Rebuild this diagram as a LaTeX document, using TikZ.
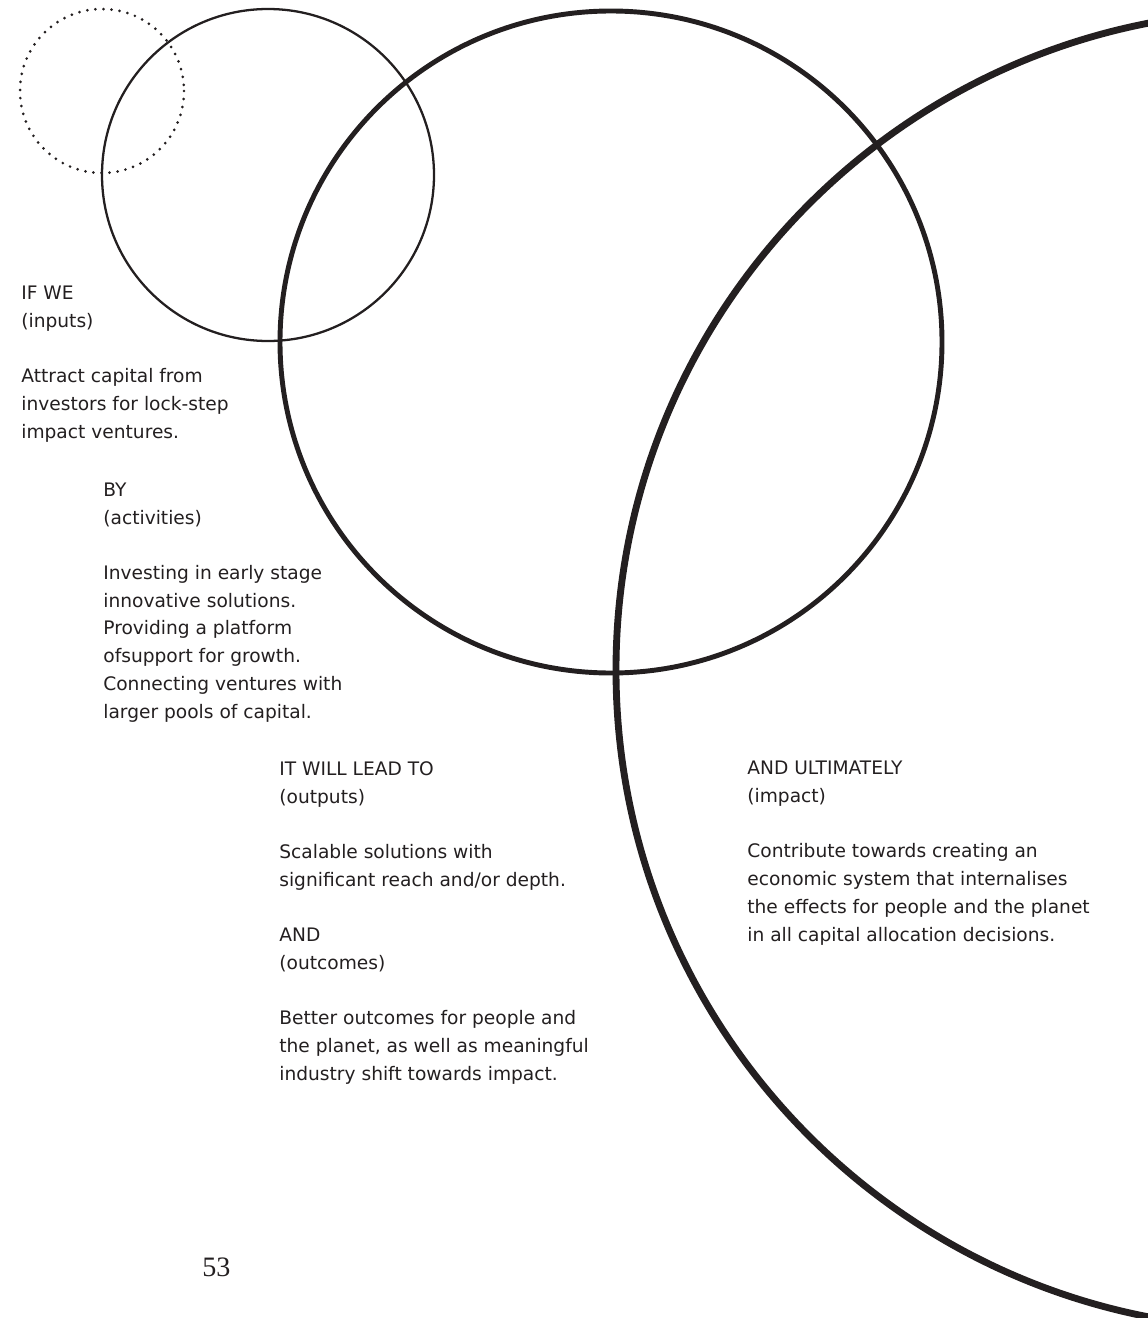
\documentclass[tikz,border=0pt]{standalone}
\usepackage{fontspec}
\setmainfont{DejaVu Sans}
\newfontfamily\pagefont{Liberation Serif}
\usetikzlibrary{calc}
\definecolor{ink}{RGB}{35,31,32}
\tikzset{
	ring/.style={draw=ink},                 % print black
	thinring/.style={ring, line width=1.3pt},
	midring/.style={ring, line width=2.8pt},
	bigring/.style={ring, line width=3.9pt},
	dotring/.style={ring, line width=1.7pt, line cap=round, dash pattern=on 0pt off 4.6pt},
	blocktext/.style={text=ink, align=left, anchor=base west, inner sep=0pt,
		font=\fontsize{10.6}{15.75}\selectfont}   % anchored at the last line
}

\begin{document}
\begin{tikzpicture}[x=0.02cm,y=-0.02cm]   % one unit = one pixel of the page
		% page
		\useasboundingbox (0,0) rectangle (1148,1318);
		\clip (0,0) rectangle (1148,1318);
		
		% growing circles
		\draw[dotring]  (102,91)   circle (82);
		\draw[thinring] (268,175)  circle (166);
		\draw[midring]  (611,342)  circle (331);
		\draw[bigring]  (1275,670) circle (659);
		
		% stages (base = baseline of the last line)
		\node[blocktext] (inputs) at (21,438)
		{IF WE\\(inputs)\\[15.75pt]
			Attract capital from\\investors for lock-step\\impact ventures.};
		
		\node[blocktext] (activities) at (103,718)
		{BY\\(activities)\\[15.75pt]
			Investing in early stage\\innovative solutions.\\Providing a platform\\
			ofsupport for growth.\\Connecting ventures with\\larger pools of capital.};
		
		\node[blocktext] (outputs) at (279,1080)
		{IT WILL LEAD TO\\(outputs)\\[15.75pt]
			Scalable solutions with\\significant reach and/or depth.\\[15.75pt]
			AND\\(outcomes)\\[15.75pt]
			Better outcomes for people and\\the planet, as well as meaningful\\
			industry shift towards impact.};
		
		\node[blocktext] (impact) at (747,941)
		{AND ULTIMATELY\\(impact)\\[15.75pt]
			Contribute towards creating an\\economic system that internalises\\
			the effects for people and the planet\\in all capital allocation decisions.};
		
		% page number
		\node[text=ink, anchor=base west, inner sep=0pt, font=\pagefont\fontsize{16}{18}\selectfont]
		(pagenum) at (202,1276) {53};
		
	\end{tikzpicture}
\end{document}
